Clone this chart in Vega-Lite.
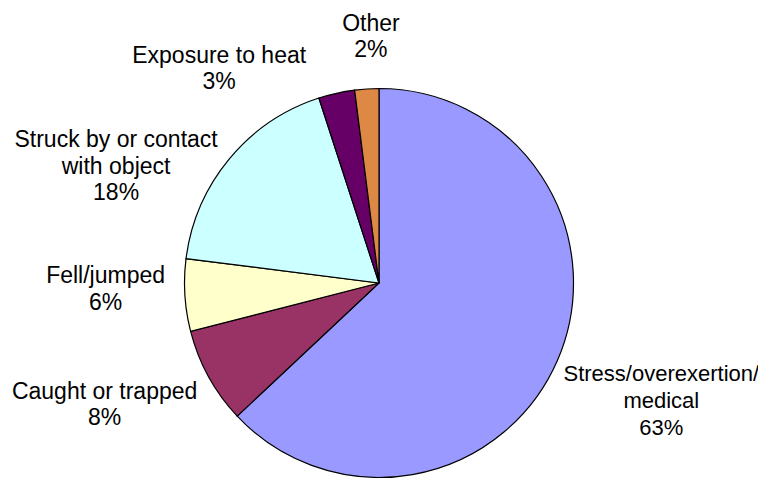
{
  "$schema": "https://vega.github.io/schema/vega-lite/v6.json",
  "width": 758,
  "height": 566,
  "autosize": {"type": "none"},
  "padding": 0,
  "background": "white",
  "config": {"view": {"stroke": null}, "text": {"font": "Liberation Sans", "fontSize": 23, "lineHeight": 26.5, "lineBreak": "\n", "align": "center", "baseline": "middle", "radius": 288}},
  "data": {
    "values": [
      {"cause": "Stress/overexertion/medical", "label": "Stress/overexertion/\nmedical\n63%", "pct": 63, "order": 1},
      {"cause": "Caught or trapped", "label": "Caught or trapped\n8%", "pct": 8, "order": 2},
      {"cause": "Fell/jumped", "label": "Fell/jumped\n6%", "pct": 6, "order": 3},
      {"cause": "Struck by or contact with object", "label": "Struck by or contact\nwith object\n18%", "pct": 18, "order": 4},
      {"cause": "Exposure to heat", "label": "Exposure to heat\n3%", "pct": 3, "order": 5},
      {"cause": "Other", "label": "Other\n2%", "pct": 2, "order": 6}
    ]
  },
  "encoding": {
    "theta": {"field": "pct", "type": "quantitative", "stack": true},
    "order": {"field": "order", "type": "quantitative"},
    "color": {
      "field": "cause",
      "type": "nominal",
      "legend": null,
      "scale": {
        "domain": ["Stress/overexertion/medical", "Caught or trapped", "Fell/jumped", "Struck by or contact with object", "Exposure to heat", "Other"],
        "range": ["#9999FF", "#993366", "#FFFFCC", "#CCFFFF", "#660066", "#DD8844"]
      }
    }
  },
  "layer": [
    {"mark": {"type": "arc", "outerRadius": 194.5, "stroke": "#000000", "strokeWidth": 1.2}},
    {
      "mark": {"type": "text", "radius": 288, "dx": 18, "dy": -23, "lineHeight": 27, "fontSize": 22},
      "encoding": {"text": {"condition": {"test": "datum.order === 1", "field": "label"}, "value": ""}, "color": {"value": "#000000"}}
    },
    {
      "mark": {"type": "text", "radius": 288, "dx": -22, "dy": -30},
      "encoding": {"text": {"condition": {"test": "datum.order === 2", "field": "label"}, "value": ""}, "color": {"value": "#000000"}}
    },
    {
      "mark": {"type": "text", "radius": 288, "dx": 14, "dy": -25},
      "encoding": {"text": {"condition": {"test": "datum.order === 3", "field": "label"}, "value": ""}, "color": {"value": "#000000"}}
    },
    {
      "mark": {"type": "text", "radius": 288, "dx": -41, "dy": 41},
      "encoding": {"text": {"condition": {"test": "datum.order === 4", "field": "label"}, "value": ""}, "color": {"value": "#000000"}}
    },
    {
      "mark": {"type": "text", "radius": 288, "dx": -97, "dy": 54},
      "encoding": {"text": {"condition": {"test": "datum.order === 5", "field": "label"}, "value": ""}, "color": {"value": "#000000"}}
    },
    {
      "mark": {"type": "text", "radius": 288, "dx": 10, "dy": 28},
      "encoding": {"text": {"condition": {"test": "datum.order === 6", "field": "label"}, "value": ""}, "color": {"value": "#000000"}}
    }
  ]
}
